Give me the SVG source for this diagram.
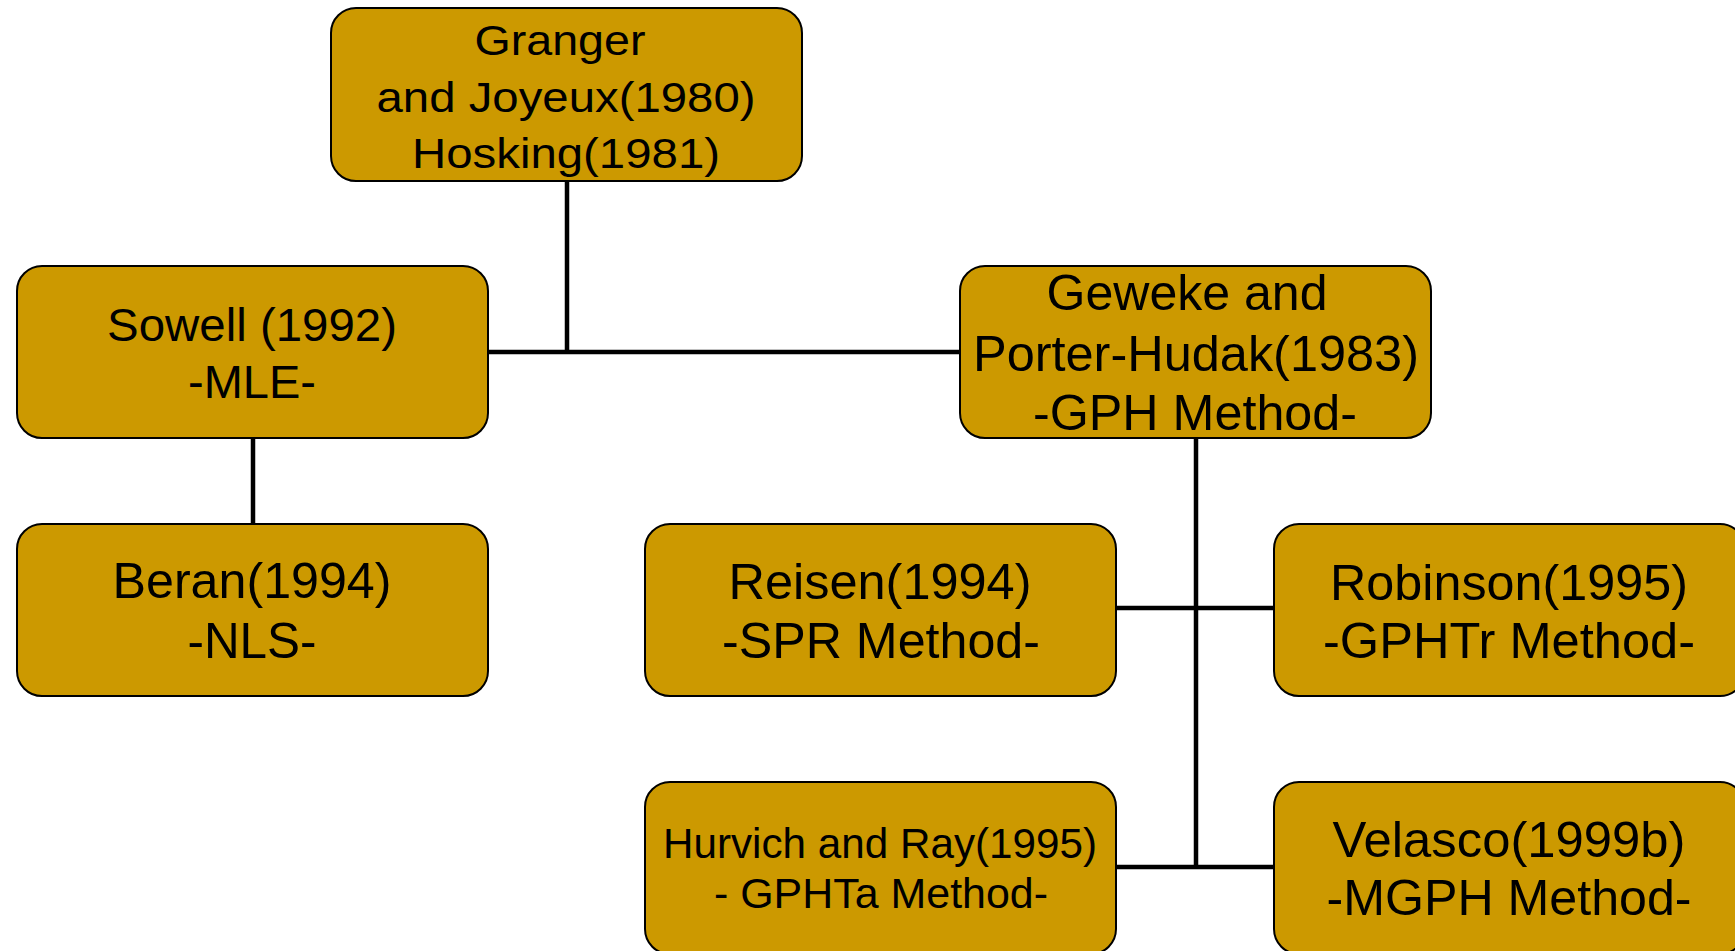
<svg xmlns="http://www.w3.org/2000/svg" width="1735" height="951" viewBox="0 0 1735 951">
<style>
.box{fill:#CC9900;stroke:#000;stroke-width:2}
.t{font-family:"Liberation Sans",Arial,sans-serif;fill:#000;text-anchor:middle}
.c{stroke:#000;stroke-width:4.5;fill:none}
</style>
<rect width="1735" height="951" fill="#fff"/>
<g id="connectors">
<line class="c" x1="567" y1="181" x2="567" y2="352"/>
<line class="c" x1="488" y1="352" x2="960" y2="352"/>
<line class="c" x1="253" y1="438" x2="253" y2="524"/>
<line class="c" x1="1196" y1="438" x2="1196" y2="867"/>
<line class="c" x1="1116" y1="608" x2="1274" y2="608"/>
<line class="c" x1="1116" y1="867" x2="1274" y2="867"/>
</g>
<g id="granger">
<rect class="box" x="331" y="8" width="471" height="173" rx="25"/>
<text class="t" font-size="43" x="560" y="55" textLength="171" lengthAdjust="spacingAndGlyphs">Granger</text>
<text class="t" font-size="43" x="566" y="112" textLength="379" lengthAdjust="spacingAndGlyphs">and Joyeux(1980)</text>
<text class="t" font-size="43" x="566" y="168" textLength="308" lengthAdjust="spacingAndGlyphs">Hosking(1981)</text>
</g>
<g id="sowell">
<rect class="box" x="17" y="266" width="471" height="172" rx="25"/>
<text class="t" font-size="47" x="252" y="341" textLength="290" lengthAdjust="spacingAndGlyphs">Sowell (1992)</text>
<text class="t" font-size="47" x="252" y="398" textLength="128" lengthAdjust="spacingAndGlyphs">-MLE-</text>
</g>
<g id="beran">
<rect class="box" x="17" y="524" width="471" height="172" rx="25"/>
<text class="t" font-size="50" x="252" y="598" textLength="279" lengthAdjust="spacingAndGlyphs">Beran(1994)</text>
<text class="t" font-size="50" x="252" y="658" textLength="129" lengthAdjust="spacingAndGlyphs">-NLS-</text>
</g>
<g id="geweke">
<rect class="box" x="960" y="266" width="471" height="172" rx="25"/>
<text class="t" font-size="50" x="1187" y="310" textLength="281" lengthAdjust="spacingAndGlyphs">Geweke and</text>
<text class="t" font-size="50" x="1196" y="371" textLength="446" lengthAdjust="spacingAndGlyphs">Porter-Hudak(1983)</text>
<text class="t" font-size="50" x="1195" y="430" textLength="324" lengthAdjust="spacingAndGlyphs">-GPH Method-</text>
</g>
<g id="reisen">
<rect class="box" x="645" y="524" width="471" height="172" rx="25"/>
<text class="t" font-size="50" x="880" y="599" textLength="303" lengthAdjust="spacingAndGlyphs">Reisen(1994)</text>
<text class="t" font-size="50" x="881" y="658" textLength="318" lengthAdjust="spacingAndGlyphs">-SPR Method-</text>
</g>
<g id="robinson">
<rect class="box" x="1274" y="524" width="471" height="172" rx="25"/>
<text class="t" font-size="50" x="1509" y="600" textLength="358" lengthAdjust="spacingAndGlyphs">Robinson(1995)</text>
<text class="t" font-size="50" x="1509" y="658" textLength="372" lengthAdjust="spacingAndGlyphs">-GPHTr Method-</text>
</g>
<g id="hurvich">
<rect class="box" x="645" y="782" width="471" height="172" rx="25"/>
<text class="t" font-size="42" x="880" y="858" textLength="434" lengthAdjust="spacingAndGlyphs">Hurvich and Ray(1995)</text>
<text class="t" font-size="42" x="881" y="908" textLength="334" lengthAdjust="spacingAndGlyphs">- GPHTa Method-</text>
</g>
<g id="velasco">
<rect class="box" x="1274" y="782" width="471" height="172" rx="25"/>
<text class="t" font-size="50" x="1509" y="857" textLength="353" lengthAdjust="spacingAndGlyphs">Velasco(1999b)</text>
<text class="t" font-size="50" x="1509" y="915" textLength="365" lengthAdjust="spacingAndGlyphs">-MGPH Method-</text>
</g>
</svg>
